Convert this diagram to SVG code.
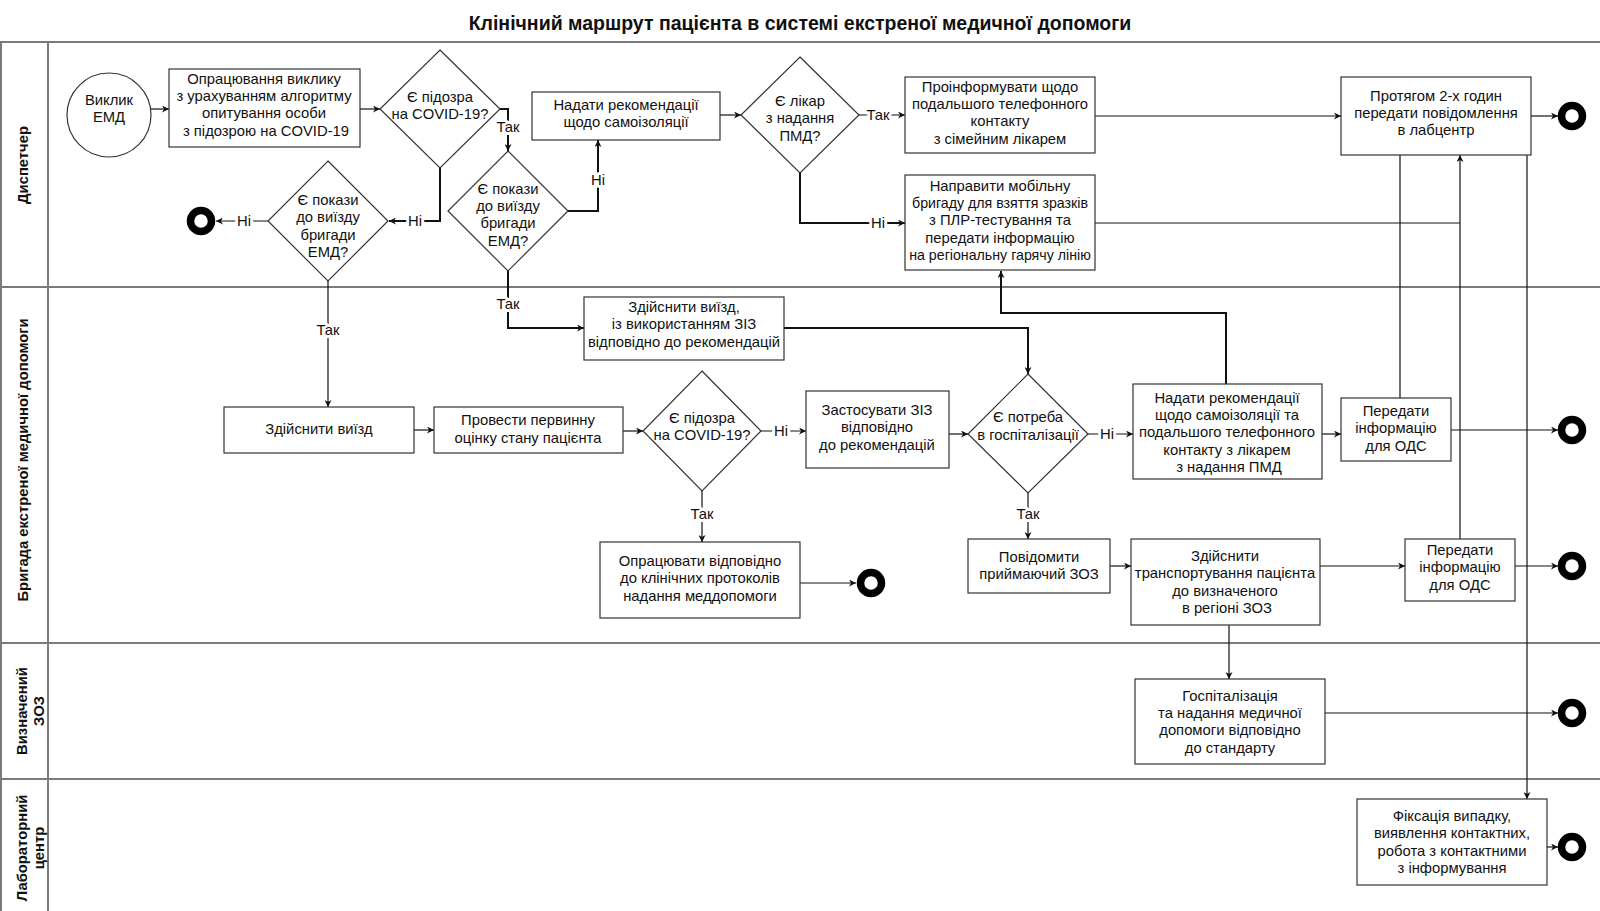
<svg xmlns="http://www.w3.org/2000/svg" width="1600" height="911" viewBox="0 0 1600 911">
<style>
text{font-family:"Liberation Sans",Arial,sans-serif;font-size:14.8px;fill:#111;text-anchor:middle}
.title{font-size:19.5px;font-weight:bold}
.lane{font-size:14.8px;font-weight:bold}
.sm{font-size:14.2px}
.box{fill:#fff;stroke:#333;stroke-width:1.2}
.lanel{stroke:#7a7a7a;stroke-width:2;fill:none}
.c{fill:none;stroke:#111;stroke-width:1.2}
.t{fill:none;stroke:#111;stroke-width:2}
.lbl{stroke:#fff;stroke-width:6;paint-order:stroke;stroke-linejoin:round}
.end{fill:#fff;stroke:#000;stroke-width:7.5}
.start{fill:#fff;stroke:#333;stroke-width:1.2}
</style>
<defs>
<marker id="a" viewBox="0 0 10 10" refX="10" refY="5" markerWidth="8" markerHeight="7" orient="auto" markerUnits="userSpaceOnUse"><path d="M0,0 L10,5 L0,10 L3,5 z" fill="#111"/></marker>
</defs>
<rect width="1600" height="911" fill="#fff"/>
<text class="title" x="800" y="30">Клінічний маршрут пацієнта в системі екстреної медичної допомоги</text>
<g id="lanes">
<path class="lanel" d="M0,42 H1600 M0,287 H1600 M0,643 H1600 M0,779 H1600 M1,42 V911 M48,42 V911"/>
<text class="lane" transform="translate(28,165) rotate(-90)">Диспетчер</text>
<text class="lane" transform="translate(28,460) rotate(-90)">Бригада екстреної медичної допомоги</text>
<text class="lane" transform="translate(27,711) rotate(-90)">Визначений</text>
<text class="lane" transform="translate(44,711) rotate(-90)">ЗОЗ</text>
<text class="lane" transform="translate(27,848) rotate(-90)">Лабораторний</text>
<text class="lane" transform="translate(44,848) rotate(-90)">центр</text>
</g>
<g id="connectors">
<path class="c" d="M151,109 H169" marker-end="url(#a)"/>
<path class="c" d="M360,109 H380" marker-end="url(#a)"/>
<path class="t" d="M499,109 H508 V151" marker-end="url(#a)"/>
<text class="lbl" x="508" y="132">Так</text>
<path class="t" d="M440,168 V221 H389" marker-end="url(#a)"/>
<text class="lbl" x="415" y="226">Ні</text>
<path class="c" d="M268,221 H216" marker-end="url(#a)"/>
<text class="lbl" x="244" y="226">Ні</text>
<path class="c" d="M328,281 V407" marker-end="url(#a)"/>
<text class="lbl" x="328" y="335">Так</text>
<path class="t" d="M568,211 H598 V140" marker-end="url(#a)"/>
<text class="lbl" x="598" y="185">Ні</text>
<path class="t" d="M508,271 V328 H584" marker-end="url(#a)"/>
<text class="lbl" x="508" y="309">Так</text>
<path class="c" d="M720,115 H741" marker-end="url(#a)"/>
<path class="c" d="M859,115 H905" marker-end="url(#a)"/>
<text class="lbl" x="878" y="120">Так</text>
<path class="t" d="M800,173 V223 H905" marker-end="url(#a)"/>
<text class="lbl" x="878" y="228">Ні</text>
<path class="c" d="M1095,116 H1341" marker-end="url(#a)"/>
<path class="c" d="M1531,116 H1558" marker-end="url(#a)"/>
<path class="c" d="M1095,223 H1460"/>
<path class="c" d="M1460,539 V155" marker-end="url(#a)"/>
<path class="c" d="M1400,155 V398"/>
<path class="c" d="M1527,155 V799" marker-end="url(#a)"/>
<path class="c" d="M414,430 H434" marker-end="url(#a)"/>
<path class="c" d="M623,431 H643" marker-end="url(#a)"/>
<path class="c" d="M761,431 H806" marker-end="url(#a)"/>
<text class="lbl" x="781" y="436">Ні</text>
<path class="c" d="M702,491 V542" marker-end="url(#a)"/>
<text class="lbl" x="702" y="519">Так</text>
<path class="c" d="M800,583 H856" marker-end="url(#a)"/>
<path class="c" d="M949,434 H968" marker-end="url(#a)"/>
<path class="t" d="M784,328 H1028 V374" marker-end="url(#a)"/>
<path class="c" d="M1088,434 H1133" marker-end="url(#a)"/>
<text class="lbl" x="1107" y="439">Ні</text>
<path class="c" d="M1028,493 V539" marker-end="url(#a)"/>
<text class="lbl" x="1028" y="519">Так</text>
<path class="t" d="M1226,384 V313 H1001 V271" marker-end="url(#a)"/>
<path class="c" d="M1322,434 H1341" marker-end="url(#a)"/>
<path class="c" d="M1451,430 H1558" marker-end="url(#a)"/>
<path class="c" d="M1110,566 H1131" marker-end="url(#a)"/>
<path class="c" d="M1320,566 H1405" marker-end="url(#a)"/>
<path class="c" d="M1515,566 H1558" marker-end="url(#a)"/>
<path class="c" d="M1229,625 V679" marker-end="url(#a)"/>
<path class="c" d="M1325,713 H1558" marker-end="url(#a)"/>
<path class="c" d="M1547,847 H1558" marker-end="url(#a)"/>
</g>
<g id="n_start"><circle class="start" cx="109" cy="115" r="42"/><text x="109" y="105">Виклик</text><text x="109" y="122">ЕМД</text></g>
<g id="n_call"><rect class="box" x="169" y="69" width="191" height="78"/><text x="264" y="84">Опрацювання виклику</text><text x="264" y="101">з урахуванням алгоритму</text><text x="264" y="118">опитування особи</text><text x="266" y="136">з підозрою на COVID-19</text></g>
<g id="d_covid1"><path class="box" d="M440,50 L500,109 L440,168 L380,109 Z"/><text x="440" y="102">Є підозра</text><text x="440" y="119">на COVID-19?</text></g>
<g id="d_pokazy1"><path class="box" d="M328,161 L388,221 L328,281 L268,221 Z"/><text x="328" y="205">Є покази</text><text x="328" y="222">до виїзду</text><text x="328" y="240">бригади</text><text x="328" y="257">ЕМД?</text></g>
<g id="end1"><circle class="end" cx="201" cy="221" r="10.5"/></g>
<g id="d_pokazy2"><path class="box" d="M508,151 L568,211 L508,271 L448,211 Z"/><text x="508" y="194">Є покази</text><text x="508" y="211">до виїзду</text><text x="508" y="228">бригади</text><text x="508" y="246">ЕМД?</text></g>
<g id="n_isol"><rect class="box" x="532" y="92" width="188" height="48"/><text x="626" y="110">Надати рекомендації</text><text x="626" y="127">щодо самоізоляції</text></g>
<g id="d_pmd"><path class="box" d="M800,57 L859,115 L800,173 L741,115 Z"/><text x="800" y="106">Є лікар</text><text x="800" y="123">з надання</text><text x="800" y="141">ПМД?</text></g>
<g id="n_inform"><rect class="box" x="905" y="77" width="190" height="76"/><text x="1000" y="92">Проінформувати щодо</text><text x="1000" y="109">подальшого телефонного</text><text x="1000" y="126">контакту</text><text x="1000" y="144">з сімейним лікарем</text></g>
<g id="n_mobile"><rect class="box" x="905" y="175" width="190" height="95"/><text x="1000" y="191">Направити мобільну</text><text class="sm" x="1000" y="208">бригаду для взяття зразків</text><text x="1000" y="225">з ПЛР-тестування та</text><text x="1000" y="243">передати інформацію</text><text class="sm" x="1000" y="260">на регіональну гарячу лінію</text></g>
<g id="n_lab2h"><rect class="box" x="1341" y="77" width="190" height="78"/><text x="1436" y="101">Протягом 2-х годин</text><text x="1436" y="118">передати повідомлення</text><text x="1436" y="135">в лабцентр</text></g>
<g id="end2"><circle class="end" cx="1572" cy="116" r="10.5"/></g>
<g id="n_ppe_trip"><rect class="box" x="584" y="297" width="200" height="63"/><text x="684" y="312">Здійснити виїзд,</text><text x="684" y="329">із використанням ЗІЗ</text><text x="684" y="347">відповідно до рекомендацій</text></g>
<g id="n_trip"><rect class="box" x="224" y="407" width="190" height="46"/><text x="319" y="434">Здійснити виїзд</text></g>
<g id="n_assess"><rect class="box" x="434" y="407" width="189" height="46"/><text x="528" y="425">Провести первинну</text><text x="528" y="443">оцінку стану пацієнта</text></g>
<g id="d_covid2"><path class="box" d="M702,371 L761,431 L702,491 L643,431 Z"/><text x="702" y="423">Є підозра</text><text x="702" y="440">на COVID-19?</text></g>
<g id="n_ppe"><rect class="box" x="806" y="391" width="143" height="77"/><text x="877" y="415">Застосувати ЗІЗ</text><text x="877" y="432">відповідно</text><text x="877" y="450">до рекомендацій</text></g>
<g id="d_hosp"><path class="box" d="M1028,374 L1088,434 L1028,493 L968,434 Z"/><text x="1028" y="422">Є потреба</text><text x="1028" y="440">в госпіталізації</text></g>
<g id="n_isol2"><rect class="box" x="1133" y="384" width="189" height="95"/><text x="1227" y="403">Надати рекомендації</text><text x="1227" y="420">щодо самоізоляції та</text><text x="1227" y="437">подальшого телефонного</text><text x="1227" y="455">контакту з лікарем</text><text x="1229" y="472">з надання ПМД</text></g>
<g id="n_ods1"><rect class="box" x="1341" y="398" width="110" height="63"/><text x="1396" y="416">Передати</text><text x="1396" y="433">інформацію</text><text x="1396" y="451">для ОДС</text></g>
<g id="end3"><circle class="end" cx="1572" cy="430" r="10.5"/></g>
<g id="n_protocol"><rect class="box" x="600" y="542" width="200" height="76"/><text x="700" y="566">Опрацювати відповідно</text><text x="700" y="583">до клінічних протоколів</text><text x="700" y="601">надання меддопомоги</text></g>
<g id="end4"><circle class="end" cx="871" cy="583" r="10.5"/></g>
<g id="n_notify"><rect class="box" x="968" y="539" width="142" height="54"/><text x="1039" y="562">Повідомити</text><text x="1039" y="579">приймаючий ЗОЗ</text></g>
<g id="n_transport"><rect class="box" x="1131" y="539" width="189" height="86"/><text x="1225" y="561">Здійснити</text><text x="1225" y="578">транспортування пацієнта</text><text x="1225" y="596">до визначеного</text><text x="1227" y="613">в регіоні ЗОЗ</text></g>
<g id="n_ods2"><rect class="box" x="1405" y="539" width="110" height="62"/><text x="1460" y="555">Передати</text><text x="1460" y="572">інформацію</text><text x="1460" y="590">для ОДС</text></g>
<g id="end5"><circle class="end" cx="1572" cy="566" r="10.5"/></g>
<g id="n_hospital"><rect class="box" x="1135" y="679" width="190" height="85"/><text x="1230" y="701">Госпіталізація</text><text x="1230" y="718">та надання медичної</text><text x="1230" y="735">допомоги відповідно</text><text x="1230" y="753">до стандарту</text></g>
<g id="end6"><circle class="end" cx="1572" cy="713" r="10.5"/></g>
<g id="n_fix"><rect class="box" x="1357" y="799" width="190" height="86"/><text x="1452" y="821">Фіксація випадку,</text><text x="1452" y="838">виявлення контактних,</text><text x="1452" y="856">робота з контактними</text><text x="1452" y="873">з інформування</text></g>
<g id="end7"><circle class="end" cx="1572" cy="847" r="10.5"/></g>
</svg>
